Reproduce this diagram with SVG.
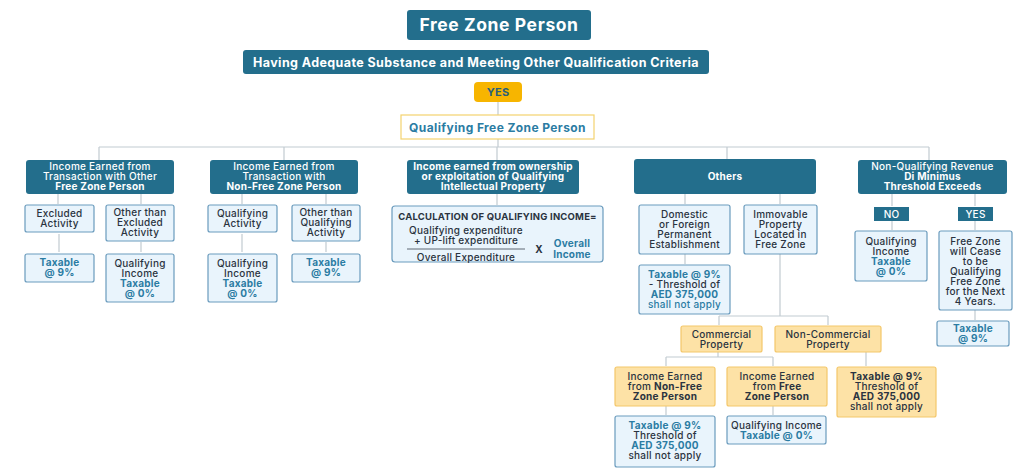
<svg xmlns="http://www.w3.org/2000/svg" width="1024" height="470" viewBox="0 0 1024 470">
<style>
.dk{fill:#236e8c}
.lt{fill:#e9f4fc;stroke:#6a9bbd;stroke-width:1.2}
.or{fill:#fde2a6;stroke:#f4c76a;stroke-width:1.2}
.ln{stroke:#c2cbd1;stroke-width:1.2;fill:none}
text{font-family:Inter,"Open Sans","Liberation Sans",sans-serif;font-size:10px;letter-spacing:0.25px;text-anchor:middle;fill:#2a3340;font-weight:500}
.w{fill:#fff}
.a{fill:#2b7ca3;font-weight:700}
.b{font-weight:700}
.c{fill:#2b7ca3}
</style>
<rect width="1024" height="470" fill="#fff"/>
<g id="connectors" class="ln">
<path d="M498 102V115M498 139V147M99 147H929M99 147V160M284 147V160M497 147V160M727 147V159M929 147V160"/>
<path d="M58 194V204M141 194V204M59 234V252M141 242V252"/>
<path d="M242 194V204M326 194V204M242 234V252M326 242V252"/>
<path d="M497 194V205"/>
<path d="M685 194V204M780 194V204M685 254V264M780 254V316M719 316H828M719 316V325M828 316V325"/>
<path d="M718 352V357M666 357H773M666 357V366M773 357V366M866 352V366M666 406V415M773 406V415"/>
<path d="M892 194V206M975 194V206M892 221V230M975 221V230M975 310V320"/>
</g>
<g id="n-fzp"><rect class="dk" x="407" y="10" width="184" height="30" rx="3"/><text class="w b" x="499" y="31" style="font-size:17.5px;letter-spacing:0.6px">Free Zone Person</text></g>
<g id="n-adequate"><rect class="dk" x="243" y="50" width="466" height="24" rx="3"/><text class="w b" x="476" y="66.5" style="font-size:12.5px;letter-spacing:0.4px">Having Adequate Substance and Meeting Other Qualification Criteria</text></g>
<g id="n-yes"><rect x="474" y="82" width="48" height="20" rx="4" fill="#f7b500"/><text x="498" y="96" style="font-size:11px;font-weight:700;fill:#2a5f78">YES</text></g>
<g id="n-qfzp"><rect x="401" y="115" width="193" height="24" fill="#fff" stroke="#f3d26e" stroke-width="1.2"/><text class="a" x="497.5" y="131.5" style="font-size:12px;letter-spacing:0.4px">Qualifying Free Zone Person</text></g>

<g id="n-other-fzp"><rect class="dk" x="26" y="160" width="148" height="34" rx="3"/>
<text class="w" x="100" y="169.5">Income Earned from</text><text class="w" x="100" y="179.5">Transaction with Other</text><text class="w b" x="100" y="189.5">Free Zone Person</text></g>
<g id="n-excl"><rect class="lt" x="25" y="205" width="69" height="27" rx="2"/><text x="59.5" y="216.5">Excluded</text><text x="59.5" y="226.5">Activity</text></g>
<g id="n-notexcl"><rect class="lt" x="106" y="205" width="68" height="36" rx="2"/><text x="140" y="215.5">Other than</text><text x="140" y="225.5">Excluded</text><text x="140" y="235.5">Activity</text></g>
<g id="n-tax9a"><rect class="lt" x="25" y="254" width="69" height="28" rx="2"/><text class="a" x="59.5" y="265.5">Taxable</text><text class="a" x="59.5" y="275.5">@ 9%</text></g>
<g id="n-qi0a"><rect class="lt" x="106" y="254" width="68" height="48" rx="2"/><text x="140" y="266.5">Qualifying</text><text x="140" y="276.5">Income</text><text class="a" x="140" y="286.5">Taxable</text><text class="a" x="140" y="296.5">@ 0%</text></g>

<g id="n-nonfzp"><rect class="dk" x="210" y="160" width="148" height="34" rx="3"/>
<text class="w" x="284" y="169.5">Income Earned from</text><text class="w" x="284" y="179.5">Transaction with</text><text class="w b" x="284" y="189.5">Non-Free Zone Person</text></g>
<g id="n-qact"><rect class="lt" x="208" y="205" width="69" height="27" rx="2"/><text x="242.5" y="216.5">Qualifying</text><text x="242.5" y="226.5">Activity</text></g>
<g id="n-notq"><rect class="lt" x="292" y="205" width="68" height="36" rx="2"/><text x="326" y="215.5">Other than</text><text x="326" y="225.5">Qualifying</text><text x="326" y="235.5">Activity</text></g>
<g id="n-qi0b"><rect class="lt" x="208" y="254" width="69" height="48" rx="2"/><text x="242.5" y="266.5">Qualifying</text><text x="242.5" y="276.5">Income</text><text class="a" x="242.5" y="286.5">Taxable</text><text class="a" x="242.5" y="296.5">@ 0%</text></g>
<g id="n-tax9b"><rect class="lt" x="292" y="254" width="68" height="28" rx="2"/><text class="a" x="326" y="265.5">Taxable</text><text class="a" x="326" y="275.5">@ 9%</text></g>

<g id="n-ip"><rect class="dk" x="407" y="160" width="172" height="34" rx="3"/>
<text class="w b" x="493" y="169.5">Income earned from ownership</text><text class="w b" x="493" y="179.5">or exploitation of Qualifying</text><text class="w b" x="493" y="189.5">Intellectual Property</text></g>
<g id="n-calc"><rect class="lt" x="392" y="206" width="211" height="56" rx="3"/>
<text class="b" x="497.5" y="219.5" style="font-size:9.5px;letter-spacing:0.2px">CALCULATION OF QUALIFYING INCOME=</text>
<text x="466" y="233.5">Qualifying expenditure</text><text x="466" y="243.5">+ UP-lift expenditure</text>
<line x1="407" y1="249" x2="525" y2="249" stroke="#3a4450" stroke-width="0.8"/>
<text x="466" y="261">Overall Expenditure</text>
<text class="b" x="539" y="252.5">X</text>
<text class="a" x="572" y="247">Overall</text><text class="a" x="572" y="257.5">Income</text></g>

<g id="n-others"><rect class="dk" x="634" y="159" width="182" height="35" rx="3"/><text class="w b" x="725" y="180">Others</text></g>
<g id="n-pe"><rect class="lt" x="639" y="205" width="91" height="49" rx="2"/><text x="684.5" y="217.5">Domestic</text><text x="684.5" y="227.5">or Foreign</text><text x="684.5" y="237.5">Permanent</text><text x="684.5" y="247.5">Establishment</text></g>
<g id="n-immov"><rect class="lt" x="744" y="205" width="73" height="49" rx="2"/><text x="780.5" y="217.5">Immovable</text><text x="780.5" y="227.5">Property</text><text x="780.5" y="237.5">Located in</text><text x="780.5" y="247.5">Free Zone</text></g>
<g id="n-pe-tax"><rect class="lt" x="639" y="265" width="91" height="49" rx="2"/><text class="a" x="684.5" y="277.5">Taxable @ 9%</text><text x="684.5" y="287.5">- Threshold of</text><text class="a" x="684.5" y="297.5">AED 375,000</text><text class="c" x="684.5" y="307.5">shall not apply</text></g>
<g id="n-comm"><rect class="or" x="681" y="326" width="81" height="26" rx="2"/><text x="721.5" y="337.5">Commercial</text><text x="721.5" y="347.5">Property</text></g>
<g id="n-noncomm"><rect class="or" x="775" y="326" width="106" height="26" rx="2"/><text x="828" y="337.5">Non-Commercial</text><text x="828" y="347.5">Property</text></g>
<g id="n-inc-nonfree"><rect class="or" x="615" y="367" width="100" height="39" rx="2"/><text x="665" y="379.5">Income Earned</text><text x="665" y="389.5">from <tspan class="b">Non-Free</tspan></text><text class="b" x="665" y="399.5">Zone Person</text></g>
<g id="n-inc-free"><rect class="or" x="727" y="367" width="100" height="39" rx="2"/><text x="777" y="379.5">Income Earned</text><text x="777" y="389.5">from <tspan class="b">Free</tspan></text><text class="b" x="777" y="399.5">Zone Person</text></g>
<g id="n-noncomm-tax"><rect class="or" x="837" y="367" width="99" height="50" rx="2"/><text class="b" x="886.5" y="379.5">Taxable @ 9%</text><text x="886.5" y="389.5">Threshold of</text><text class="b" x="886.5" y="399.5">AED 375,000</text><text x="886.5" y="409.5">shall not apply</text></g>
<g id="n-nonfree-tax"><rect class="lt" x="615" y="416" width="100" height="51" rx="2"/><text class="a" x="665" y="428.5">Taxable @ 9%</text><text x="665" y="438.5">Threshold of</text><text class="a" x="665" y="448.5">AED 375,000</text><text x="665" y="458.5">shall not apply</text></g>
<g id="n-free-qi"><rect class="lt" x="727" y="416" width="99" height="28" rx="2"/><text x="776.5" y="428.5">Qualifying Income</text><text class="a" x="776.5" y="438.5">Taxable @ 0%</text></g>

<g id="n-nonq"><rect class="dk" x="858" y="160" width="149" height="34" rx="3"/>
<text class="w" x="932.5" y="170">Non-Qualifying Revenue</text><text class="w b" x="932.5" y="180">Di Minimus</text><text class="w b" x="932.5" y="190">Threshold Exceeds</text></g>
<g id="n-no"><rect class="dk" x="874" y="207" width="35" height="14"/><text class="w" x="891.5" y="217.5">NO</text></g>
<g id="n-yes2"><rect class="dk" x="958" y="207" width="35" height="14"/><text class="w" x="975.5" y="217.5">YES</text></g>
<g id="n-no-qi"><rect class="lt" x="855" y="231" width="72" height="50" rx="2"/><text x="891" y="244.5">Qualifying</text><text x="891" y="254.5">Income</text><text class="a" x="891" y="264.5">Taxable</text><text class="a" x="891" y="274.5">@ 0%</text></g>
<g id="n-cease"><rect class="lt" x="939" y="231" width="73" height="79" rx="2"/><text x="975.5" y="244.5">Free Zone</text><text x="975.5" y="254.5">will Cease</text><text x="975.5" y="264.5">to be</text><text x="975.5" y="274.5">Qualifying</text><text x="975.5" y="284.5">Free Zone</text><text x="975.5" y="294.5">for the Next</text><text x="975.5" y="304.5">4 Years.</text></g>
<g id="n-cease-tax"><rect class="lt" x="937" y="321" width="72" height="25" rx="2"/><text class="a" x="973" y="332">Taxable</text><text class="a" x="973" y="342">@ 9%</text></g>
</svg>
